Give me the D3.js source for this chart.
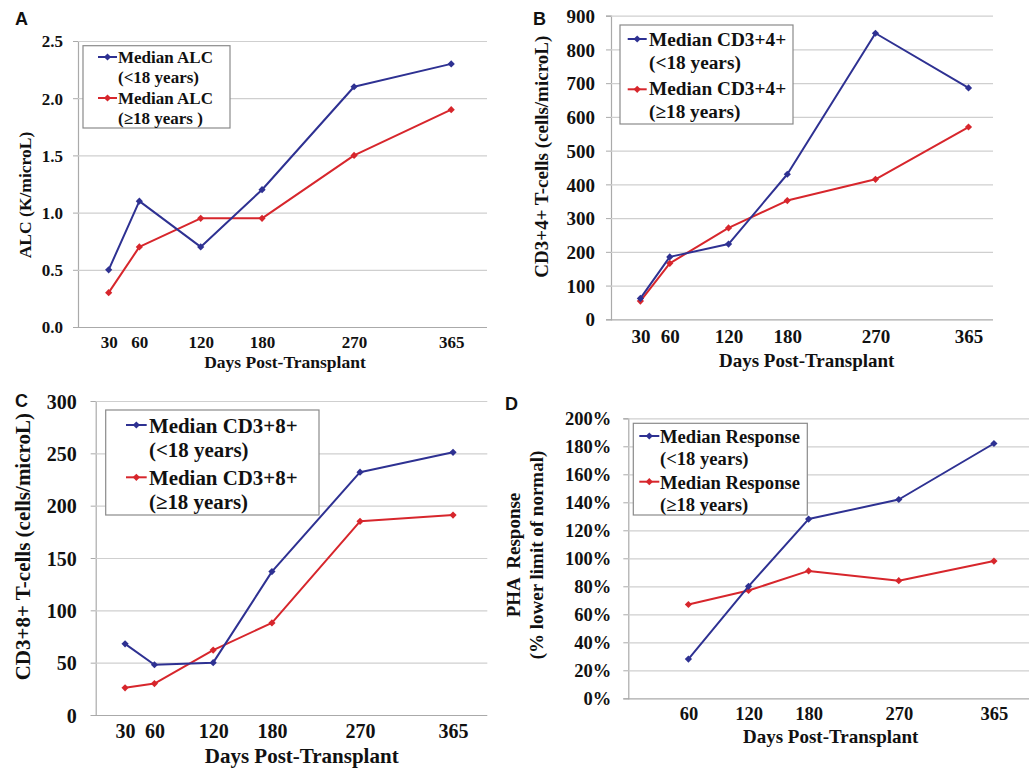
<!DOCTYPE html>
<html><head><meta charset="utf-8">
<script src="https://cdn.jsdelivr.net/npm/d3@7"></script>
<style>body{margin:0;background:#fff}svg{display:block}</style>
</head><body><svg id="c" width="1029" height="772"></svg>
<script>
// ---------- data ----------
const days = [30, 60, 120, 180, 270, 365];
const alcYoung = [0.5, 1.1, 0.7, 1.2, 2.1, 2.3];
const alcAdult = [0.3, 0.7, 0.95, 0.95, 1.5, 1.9];
const cd4Young = [62, 185, 223, 430, 848, 686];
const cd4Adult = [54, 166, 271, 352, 415, 570];
const cd8Young = [68, 48, 50, 137, 232, 251];
const cd8Adult = [26, 30, 62, 88, 185, 191];
const phaDays = [60, 120, 180, 270, 365];
const phaYoung = [28, 80, 128, 142, 182];
const phaAdult = [67, 77, 91, 84, 98];
const alcTicks = [0, 0.5, 1.0, 1.5, 2.0, 2.5];
const cd4Ticks = [0, 100, 200, 300, 400, 500, 600, 700, 800, 900];
const cd8Ticks = [0, 50, 100, 150, 200, 250, 300];
const phaTicks = [0, 20, 40, 60, 80, 100, 120, 140, 160, 180, 200];
const xTitle = "Days Post-Transplant";
const legA = ["Median ALC", "(<18 years)", "Median ALC", "(\u226518 years )"];
const legB = ["Median CD3+4+", "(<18 years)", "Median CD3+4+", "(\u226518 years)"];
const legC = ["Median CD3+8+", "(<18 years)", "Median CD3+8+", "(\u226518 years)"];
const legD = ["Median Response", "(<18 years)", "Median Response", "(\u226518 years)"];

// ---------- style ----------
const BLUE = "#2e3192", RED = "#d7262c";
const SERIF = "'Liberation Serif','Times New Roman',serif";
const SANS = "'Liberation Sans',Arial,sans-serif";
const svg = d3.select("#c");

const panels = [
  {letter:"A", lx:15, ly:25, x0:78, x1:487, y0:41, y1:327, xMax:400, yMax:2.5,
   ticks:alcTicks, fmt:d=>d.toFixed(1), xs:days, young:alcYoung, adult:alcAdult,
   tickFont:17, tickGap:15, xTickY:348, xTitleX:285, xTitleY:368, titleFont:17.5,
   yTitle:["ALC (K/microL)"], yTitleX:[25], yTitleY:195,
   leg:{x0:83, y0:45.7, x1:230, y1:128, tx:118, base:[63,83,104,124], my:[57,98], mx0:98, mx1:117, font:17}, legText:legA},
  {letter:"B", lx:533, ly:25, x0:611, x1:993, y0:15.7, y1:319.3, xMax:390, yMax:900,
   ticks:cd4Ticks, fmt:d=>String(d), xs:days, young:cd4Young, adult:cd4Adult,
   tickFont:19, tickGap:16, xTickY:343, xTitleX:806.7, xTitleY:366.7, titleFont:19,
   yTitle:["CD3+4+ T-cells (cells/microL)"], yTitleX:[541.7], yTitleY:156.7,
   leg:{x0:620, y0:25, x1:793, y1:124, tx:649, base:[46,69,95,118], my:[39,89.3], mx0:627.7, mx1:646.7, font:19.3}, legText:legB},
  {letter:"C", lx:15, ly:407, x0:95.7, x1:487.3, y0:401, y1:715, xMax:400, yMax:300,
   ticks:cd8Ticks, fmt:d=>String(d), xs:days, young:cd8Young, adult:cd8Adult,
   tickFont:20, tickGap:19, xTickY:738, xTitleX:301.7, xTitleY:763, titleFont:21,
   yTitle:["CD3+8+ T-cells (cells/microL)"], yTitleX:[23.3], yTitleY:546.7,
   leg:{x0:105.7, y0:410, x1:319, y1:515, tx:149, base:[433,457,485,509], my:[425,477.3], mx0:126, mx1:146.7, font:20.9}, legText:legC},
  {letter:"D", lx:505, ly:410, x0:628.3, x1:1029, y0:418.3, y1:698.3, xMax:400, yMax:200,
   ticks:phaTicks, fmt:d=>d+"%", xs:phaDays, young:phaYoung, adult:phaAdult,
   tickFont:18.5, tickGap:17, xTickY:720, xTitleX:830.7, xTitleY:742.7, titleFont:19,
   yTitle:["PHA  Response", "(% lower limit of normal)"], yTitleX:[513.3, 536], yTitleY:555,
   leg:{x0:633.3, y0:423.3, x1:807.3, y1:515, tx:660, base:[443,465,488.5,511], my:[436,481.7], mx0:639.3, mx1:659.3, font:18.6}, legText:legD}
];

// square-ish diamond marker
const diamond = "M0,-3.6L3.6,0L0,3.6L-3.6,0Z";

panels.forEach(p => {
  const g = svg.append("g");
  const x = d3.scaleLinear().domain([0, p.xMax]).range([p.x0, p.x1]);
  const y = d3.scaleLinear().domain([0, p.yMax]).range([p.y1, p.y0]);

  // gridlines + y axis ticks
  const yAxis = d3.axisLeft(y).tickValues(p.ticks).tickFormat(p.fmt).tickSize(5).tickPadding(p.tickGap - 5);
  const ya = g.append("g").attr("transform", `translate(${p.x0},0)`).call(yAxis);
  ya.select(".domain").attr("stroke", "#aaaaaa").attr("stroke-width", 1.2);
  ya.selectAll(".tick line").attr("stroke", "#aaaaaa");
  ya.selectAll(".tick text").attr("font-family", SERIF).attr("font-weight", "bold")
    .attr("font-size", p.tickFont).attr("fill", "#111").attr("dy", "0.35em");
  ya.selectAll(".tick").append("line").attr("x1", 0).attr("x2", p.x1 - p.x0)
    .attr("stroke", d => d === 0 ? "#aaaaaa" : "#cfcfcf").attr("stroke-width", 1.2);

  // x tick labels
  const xa = g.append("g").attr("transform", `translate(0,${p.xTickY})`)
    .call(d3.axisBottom(x).tickValues(p.xs).tickFormat(d => String(d)).tickSize(0).tickPadding(0));
  xa.select(".domain").remove();
  xa.selectAll(".tick text").attr("font-family", SERIF).attr("font-weight", "bold")
    .attr("font-size", p.tickFont).attr("fill", "#111").attr("dy", 0).attr("y", 0);

  // x title
  g.append("text").attr("x", p.xTitleX).attr("y", p.xTitleY).attr("text-anchor", "middle")
    .attr("font-family", SERIF).attr("font-weight", "bold").attr("font-size", p.titleFont)
    .attr("fill", "#111").text(xTitle);

  // y title
  p.yTitle.forEach((t, i) => {
    g.append("text").attr("transform", `translate(${p.yTitleX[i]},${p.yTitleY}) rotate(-90)`)
      .attr("text-anchor", "middle").attr("dominant-baseline", "central")
      .attr("font-family", SERIF).attr("font-weight", "bold").attr("font-size", p.titleFont)
      .attr("fill", "#111").style("white-space", "pre").text(t);
  });

  // series
  const line = d3.line().x((d, i) => x(p.xs[i])).y(d => y(d));
  [[p.adult, RED], [p.young, BLUE]].forEach(([vals, col]) => {
    g.append("path").datum(vals).attr("d", line).attr("fill", "none")
      .attr("stroke", col).attr("stroke-width", 2).attr("stroke-linejoin", "round");
    g.selectAll(null).data(vals).enter().append("path").attr("d", diamond)
      .attr("transform", (d, i) => `translate(${x(p.xs[i])},${y(d)})`).attr("fill", col);
  });

  // legend
  const L = p.leg;
  g.append("rect").attr("x", L.x0).attr("y", L.y0).attr("width", L.x1 - L.x0).attr("height", L.y1 - L.y0)
    .attr("fill", "#fff").attr("stroke", "#8a8a8a").attr("stroke-width", 1.2);
  [BLUE, RED].forEach((col, k) => {
    g.append("line").attr("x1", L.mx0).attr("x2", L.mx1).attr("y1", L.my[k]).attr("y2", L.my[k])
      .attr("stroke", col).attr("stroke-width", 2);
    g.append("path").attr("d", diamond).attr("transform", `translate(${(L.mx0 + L.mx1) / 2},${L.my[k]})`).attr("fill", col);
  });
  p.legText.forEach((t, i) => {
    g.append("text").attr("x", L.tx).attr("y", L.base[i]).attr("font-family", SERIF)
      .attr("font-weight", "bold").attr("font-size", L.font).attr("fill", "#111").text(t);
  });

  // panel letter
  g.append("text").attr("x", p.lx).attr("y", p.ly).attr("font-family", SANS).attr("font-weight", "bold")
    .attr("font-size", 18).attr("fill", "#111").text(p.letter);
});
</script></body></html>
